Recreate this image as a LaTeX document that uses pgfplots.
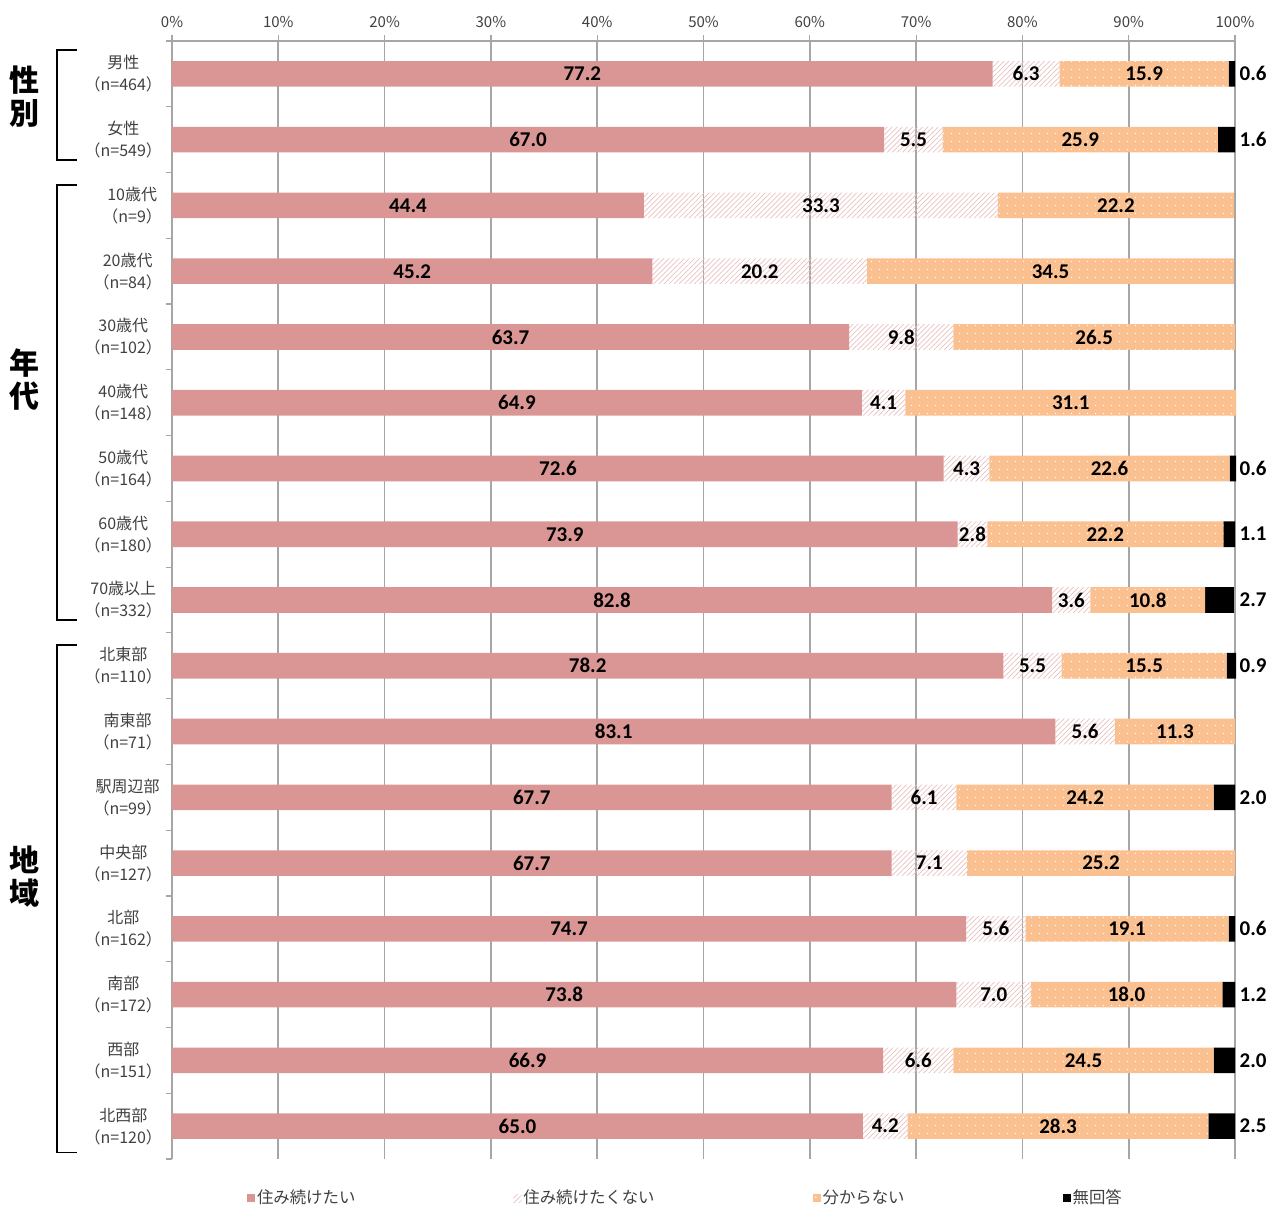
\documentclass[border=0pt]{standalone}
\usepackage{fontspec}
\setmainfont{Carlito}
\newfontfamily\cjk{Noto Sans CJK JP}
\usepackage{pgfplots}
\pgfplotsset{compat=1.18}
\usepackage{pgfplotstable}
\usetikzlibrary{patterns.meta,calc}

\definecolor{pinkc}{HTML}{D99694}
\definecolor{orangec}{HTML}{FAC090}
\definecolor{gridc}{HTML}{A6A6A6}
\definecolor{txtc}{HTML}{404040}

% a: 住み続けたい, b: 住み続けたくない, c: 分からない, d: 無回答
\pgfplotstableread{
idx a b c d
0 77.2 6.3 15.9 0.6
1 67.0 5.5 25.9 1.6
2 44.4 33.3 22.2 0
3 45.2 20.2 34.5 0
4 63.7 9.8 26.5 0
5 64.9 4.1 31.1 0
6 72.6 4.3 22.6 0.6
7 73.9 2.8 22.2 1.1
8 82.8 3.6 10.8 2.7
9 78.2 5.5 15.5 0.9
10 83.1 5.6 11.3 0
11 67.7 6.1 24.2 2.0
12 67.7 7.1 25.2 0
13 74.7 5.6 19.1 0.6
14 73.8 7.0 18.0 1.2
15 66.9 6.6 24.5 2.0
16 65.0 4.2 28.3 2.5
}\datatab

% rows with a 無回答 share
\pgfplotstableread{
idx d
0 0.6
1 1.6
6 0.6
7 1.1
8 2.7
9 0.9
11 2.0
13 0.6
14 1.2
15 2.0
16 2.5
}\noans

\pgfplotsset{
  legimg/.style={legend image code/.code={\fill[##1] (0pt,-2pt) rectangle (4pt,2pt);}},
}

% bracket from row y1 to y2, label centred at row y3
\newcommand{\grp}[4]{%
  \draw[black, line width=0.9pt]
    ($(axis cs:0,#1)+(-47.5pt,0pt)$) -- ($(axis cs:0,#1)+(-57.5pt,0pt)$)
    -- ($(axis cs:0,#2)+(-57.5pt,0pt)$) -- ($(axis cs:0,#2)+(-47.5pt,0pt)$);
  \node[font=\cjk\bfseries\fontsize{15}{16.5}\selectfont, align=center]
    at ($(axis cs:0,#3)+(-73.5pt,0pt)$) {#4};
}

\begin{document}
\begin{tikzpicture}
\begin{axis}[
  name=ax,
  width=531.5pt, height=559pt, scale only axis,
  xbar stacked, bar width=12.8pt,
  xmin=0, xmax=100, ymin=-0.5, ymax=16.5, y dir=reverse,
  clip=false,
  axis x line*=top, axis y line*=left,
  axis line style={gridc, line width=0.6pt},
  xtick={0,10,...,100},
  xticklabels={0\%,10\%,20\%,30\%,40\%,50\%,60\%,70\%,80\%,90\%,100\%},
  xticklabel style={font=\cjk\fontsize{7.5}{8}\selectfont, text=txtc},
  tick align=outside, major tick length=3pt, minor tick length=3pt,
  tick style={gridc, line width=0.6pt},
  xmajorgrids, grid style={gridc, line width=0.8pt},
  ytick={0,1,...,16},
  minor ytick={-0.5,0.5,...,16.5},
  major y tick style={draw=none},
  yticklabels={
    {男性\\（n=464）},{女性\\（n=549）},{10歳代\\（n=9）},{20歳代\\（n=84）},
    {30歳代\\（n=102）},{40歳代\\（n=148）},{50歳代\\（n=164）},{60歳代\\（n=180）},
    {70歳以上\\（n=332）},{北東部\\（n=110）},{南東部\\（n=71）},{駅周辺部\\（n=99）},
    {中央部\\（n=127）},{北部\\（n=162）},{南部\\（n=172）},{西部\\（n=151）},{北西部\\（n=120）}},
  yticklabel style={align=center, font=\cjk\fontsize{8}{11}\selectfont, text=txtc, xshift=1.5pt},
  legend columns=4,
  legend style={draw=none, fill=none, at={(0.483,-0.035)}, anchor=center,
    font=\cjk\fontsize{8.2}{9}\selectfont, text=txtc,
    /tikz/every even column/.append style={column sep=78pt},
    /tikz/every odd column/.append style={column sep=0pt},
    nodes={inner sep=1pt}},
]
\addplot[draw=none, fill=pinkc, legimg] table[x=a, y=idx]{\datatab};
\addlegendentry{住み続けたい}
\addplot[draw=none, pattern={Lines[angle=45, distance=1.8pt, line width=0.35pt]}, pattern color=pinkc!60, legimg] table[x=b, y=idx]{\datatab};
\addlegendentry{住み続けたくない}
\addplot[draw=none, fill=orangec, postaction={pattern={Dots[distance=4pt, radius=0.4pt]}, pattern color=white}, legimg] table[x=c, y=idx]{\datatab};
\addlegendentry{分からない}
\addplot[draw=none, fill=black, legimg] table[x=d, y=idx]{\datatab};
\addlegendentry{無回答}

\grp{-0.36}{1.31}{0.35}{性\\別}
\grp{1.69}{8.30}{4.65}{年\\代}
\grp{8.68}{16.40}{12.2}{地\\域}
\end{axis}

\begin{axis}[
  width=531.5pt, height=559pt, scale only axis,
  xmin=0, xmax=100, ymin=-0.5, ymax=16.5, y dir=reverse,
  hide axis, clip=false,
  nodes near coords, point meta=explicit symbolic,
  every node near coord/.append style={font=\bfseries\fontsize{10.5}{12}\selectfont, anchor=center, inner sep=0pt, text=black},
]
\addplot[draw=none, mark=none] table[x expr=\thisrow{a}/2, y=idx, meta=a]{\datatab};
\addplot[draw=none, mark=none] table[x expr=\thisrow{a}+\thisrow{b}/2, y=idx, meta=b]{\datatab};
\addplot[draw=none, mark=none] table[x expr=\thisrow{a}+\thisrow{b}+\thisrow{c}/2, y=idx, meta=c]{\datatab};
\addplot[draw=none, mark=none, every node near coord/.append style={anchor=west}] table[x expr=100.4, y=idx, meta=d]{\noans};
\end{axis}

\path ($(ax.south west)+(-86pt,-23.5pt)$) rectangle ($(ax.north east)+(22.5pt,20.5pt)$);
\end{tikzpicture}
\end{document}
